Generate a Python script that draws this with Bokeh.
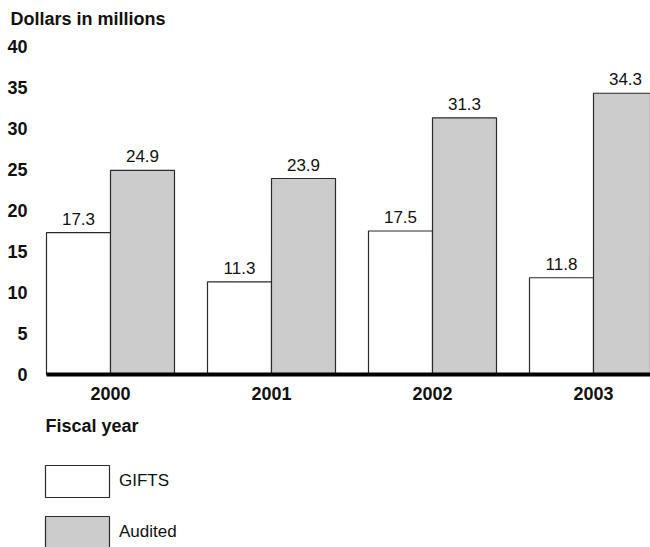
from bokeh.plotting import figure
from bokeh.models import (ColumnDataSource, Range1d, FixedTicker, Legend,
                          LegendItem, Label)
from bokeh.core.properties import value
from bokeh.embed import file_html
from bokeh.resources import INLINE

# ---- data ----
years = [2000, 2001, 2002, 2003]
gifts = [17.3, 11.3, 17.5, 11.8]
audited = [24.9, 23.9, 31.3, 34.3]
y_ticks = [0, 5, 10, 15, 20, 25, 30, 35, 40]
series_names = ["GIFTS", "Audited"]
y_title = "Dollars in millions"
x_title = "Fiscal year"

FONT = "Liberation Sans"
TXT = "#111111"
GIFT_FILL = "white"
AUD_FILL = "#cccccc"
EDGE = "#2a2a2a"

W, H = 650, 547
PX_YEAR = 161.0          # pixels per year group
PX_UNIT = 8.2            # pixels per million
X0_PX, Y0_PX = 110, 374  # canvas position of (first year, 0)
BW = 64 / PX_YEAR        # bar width in year units

src_g = ColumnDataSource(dict(x=[y - BW / 2 for y in years], top=gifts,
                              lab=[f"{v:.1f}" for v in gifts]))
src_a = ColumnDataSource(dict(x=[y + BW / 2 for y in years], top=audited,
                              lab=[f"{v:.1f}" for v in audited]))

p = figure(width=W, height=H, output_backend="svg", toolbar_location=None,
           x_range=Range1d(years[0] - X0_PX / PX_YEAR, years[0] + (W - X0_PX) / PX_YEAR),
           y_range=Range1d(-(H - Y0_PX) / PX_UNIT, Y0_PX / PX_UNIT),
           min_border=0)
p.outline_line_color = None
p.grid.grid_line_color = None
p.border_fill_color = "white"

p.vbar(x="x", top="top", bottom=0, width=BW, source=src_g,
       fill_color=GIFT_FILL, line_color=EDGE, line_width=1.2)
p.vbar(x="x", top="top", bottom=0, width=BW, source=src_a,
       fill_color=AUD_FILL, line_color=EDGE, line_width=1.2)

for s in (src_g, src_a):
    p.text(x="x", y="top", text="lab", source=s, text_align="center",
           text_baseline="alphabetic", y_offset=-14,
           text_font=value(FONT), text_font_size="17px", text_color=TXT)

# y axis, pinned at the left edge of the first bar
ya = p.yaxis[0]
ya.fixed_location = years[0] - BW
ya.bounds = (y_ticks[0], y_ticks[-1])
ya.ticker = FixedTicker(ticks=y_ticks)
ya.axis_line_color = None
ya.major_tick_line_color = None
ya.minor_tick_line_color = None
ya.major_label_text_font = FONT
ya.major_label_text_font_style = "bold"
ya.major_label_text_font_size = "18px"
ya.major_label_text_color = TXT
ya.major_label_standoff = 13

# x axis, pinned at zero
xa = p.xaxis[0]
xa.fixed_location = 0
xa.bounds = (years[0] - BW, years[-1] + 1)
xa.ticker = FixedTicker(ticks=years)
xa.axis_line_color = "black"
xa.axis_line_width = 4
xa.major_tick_line_color = None
xa.minor_tick_line_color = None
xa.major_tick_out = 0
xa.major_label_standoff = 12
xa.major_label_text_font = FONT
xa.major_label_text_font_style = "bold"
xa.major_label_text_font_size = "18px"
xa.major_label_text_color = TXT

p.add_layout(Label(x=10, y=H - 18, x_units="screen", y_units="screen",
                   text=y_title, text_font=FONT, text_font_style="bold",
                   text_font_size="18px", text_baseline="middle",
                   text_color=TXT))
p.add_layout(Label(x=45, y=H - 425, x_units="screen", y_units="screen",
                   text=x_title, text_font=FONT, text_font_style="bold",
                   text_font_size="18px", text_baseline="middle",
                   text_color=TXT))

legend = Legend(items=[LegendItem(label=series_names[0], renderers=[p.renderers[0]]),
                       LegendItem(label=series_names[1], renderers=[p.renderers[1]])],
                location=(37, -5), orientation="vertical",
                glyph_width=80, glyph_height=40, spacing=11, label_standoff=2,
                padding=0, margin=0, border_line_color=None,
                background_fill_alpha=0,
                label_text_font=FONT, label_text_font_size="17px",
                label_text_color=TXT, label_height=40)
p.add_layout(legend)

open("out.html", "w").write(file_html(p, INLINE))
